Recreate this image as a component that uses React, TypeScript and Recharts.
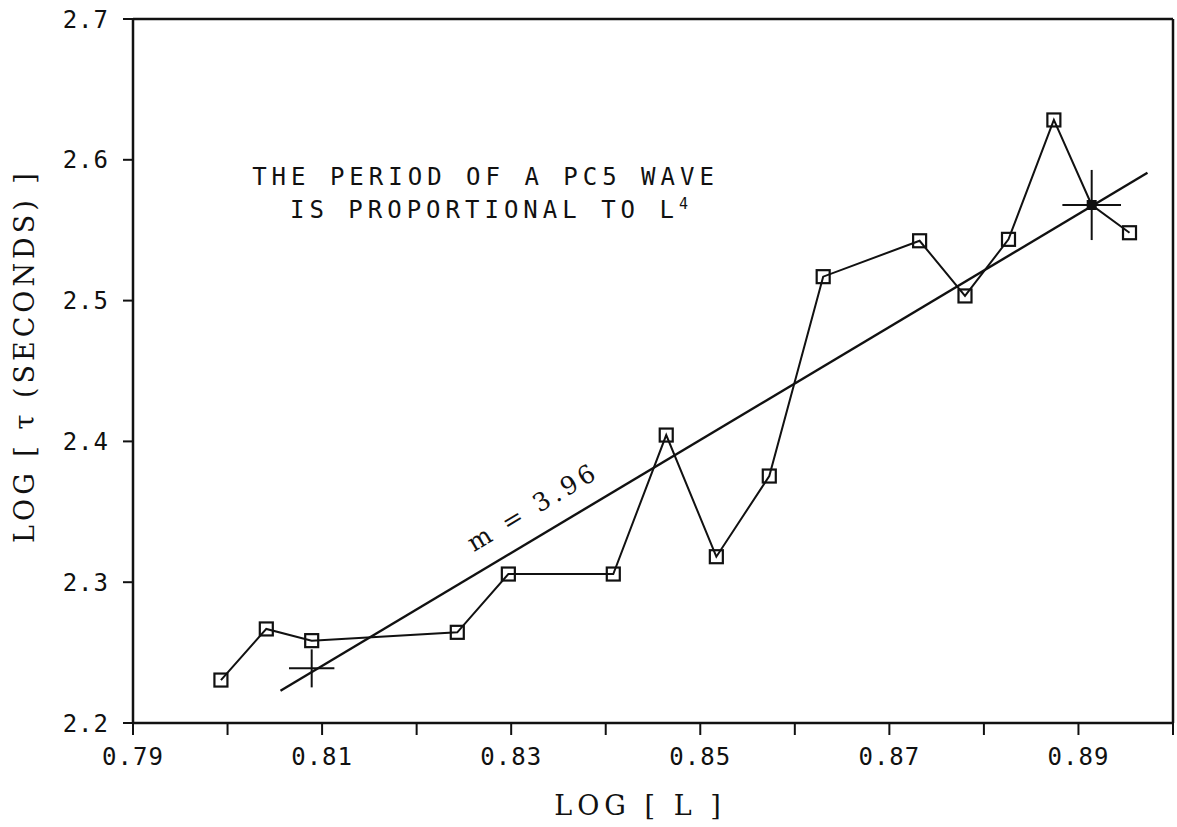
import { ComposedChart, Scatter, XAxis, YAxis, ReferenceLine, ReferenceDot, ErrorBar } from 'recharts'

// observed pc5 periods
const logL = [0.7993, 0.8041, 0.8089, 0.8243, 0.8297, 0.8408, 0.8464, 0.8517, 0.8573, 0.863, 0.8732, 0.878, 0.8826, 0.8874, 0.8914, 0.8954]
const logTau = [2.2305, 2.2668, 2.2585, 2.2644, 2.3058, 2.3058, 2.4045, 2.3181, 2.3754, 2.517, 2.5425, 2.5033, 2.5435, 2.6283, 2.5679, 2.5482]
const filledIndex = 14

// least squares fit, m = 3.96
const fitL = [0.8056, 0.8973]
const fitTau = [2.2229, 2.5908]

// crosses on the fit line
const crossL = [0.8089, 0.8914]
const crossTau = [2.2388, 2.5679]
const crossErrL = [0.0024, 0.0031]
const crossErrTau = [0.0135, 0.0249]

const xTicks = [0.79, 0.8, 0.81, 0.82, 0.83, 0.84, 0.85, 0.86, 0.87, 0.88, 0.89, 0.9]
const yTicks = [2.2, 2.3, 2.4, 2.5, 2.6, 2.7]

const obs = logL.map((x, i) => ({ x, y: logTau[i], filled: i === filledIndex }))
const fit = fitL.map((x, i) => ({ x, y: fitTau[i] }))
const crosses = crossL.map((x, i) => ({ x, y: crossTau[i], ex: crossErrL[i], ey: crossErrTau[i] }))

const INK = '#111'
const plotFont = '"DejaVu Sans Mono", monospace'
const typeFont = '"DejaVu Serif", serif'

const tickStyle = { fill: INK, fontSize: 24, fontFamily: plotFont, letterSpacing: 1 }

function SquareDot(props: any) {
  const { cx, cy, payload } = props
  if (cx == null || cy == null) return <g />
  if (payload.filled) {
    return <rect x={cx - 5} y={cy - 5} width={10} height={10} fill={INK} />
  }
  return <rect x={cx - 6.5} y={cy - 6.5} width={13} height={13} fill="none" stroke={INK} strokeWidth={2.2} />
}

const NoDot = () => <g />

export default function App() {
  return (
    <div style={{ position: 'absolute', left: 0, top: 0, background: '#fff' }}>
      <ComposedChart width={1177} height={827} margin={{ top: 19, right: 4, bottom: 0, left: 0 }}>
        <XAxis
          type="number"
          dataKey="x"
          domain={[0.79, 0.9]}
          ticks={xTicks}
          allowDataOverflow
          height={104}
          tickSize={12}
          tickMargin={13}
          interval={0}
          tickFormatter={(v: number) => (Math.round(v * 100) % 2 === 1 ? v.toFixed(2) : '')}
          tick={tickStyle}
          axisLine={{ stroke: INK, strokeWidth: 2.5 }}
          tickLine={{ stroke: INK, strokeWidth: 2 }}
          label={{
            content: (p: any) => {
              const vb = p.viewBox
              return (
                <text x={vb.x + vb.width / 2 - 13} y={vb.y + 92} textAnchor="middle" fill={INK} fontSize={27} fontFamily={typeFont} letterSpacing={5}>
                  LOG [ L ]
                </text>
              )
            },
          }}
        />
        <YAxis
          type="number"
          dataKey="y"
          domain={[2.2, 2.7]}
          ticks={yTicks}
          allowDataOverflow
          width={133}
          tickSize={10}
          tickMargin={14}
          interval={0}
          tickFormatter={(v: number) => v.toFixed(1)}
          tick={tickStyle}
          axisLine={{ stroke: INK, strokeWidth: 2.5 }}
          tickLine={{ stroke: INK, strokeWidth: 2 }}
          label={{
            content: (p: any) => {
              const vb = p.viewBox
              const cx = vb.x + 24
              const cy = vb.y + vb.height / 2 - 15
              return (
                <text x={cx} y={cy} transform={`rotate(-90 ${cx} ${cy})`} textAnchor="middle" dominantBaseline="central" fill={INK} fontSize={27} fontFamily={typeFont} letterSpacing={4}>
                  LOG [ τ (SECONDS) ]
                </text>
              )
            },
          }}
        />
        <ReferenceLine y={2.7} stroke={INK} strokeWidth={2.5} />
        <ReferenceLine x={0.9} stroke={INK} strokeWidth={2.5} />

        <Scatter data={fit} line={{ stroke: INK, strokeWidth: 2.4 }} lineType="joint" shape={NoDot} isAnimationActive={false} />
        <Scatter data={crosses} shape={NoDot} isAnimationActive={false}>
          <ErrorBar dataKey="ex" direction="x" width={0} stroke={INK} strokeWidth={2} />
          <ErrorBar dataKey="ey" direction="y" width={0} stroke={INK} strokeWidth={2} />
        </Scatter>
        <Scatter data={obs} line={{ stroke: INK, strokeWidth: 2 }} lineType="joint" shape={SquareDot} isAnimationActive={false} />

        <ReferenceDot
          x={0.8026}
          y={2.5821}
          r={0}
          ifOverflow="visible"
          shape={(p: any) => (
            <text x={p.cx} y={p.cy} fill={INK} fontSize={24} fontFamily={plotFont} letterSpacing={5}>
              THE PERIOD OF A PC5 WAVE
            </text>
          )}
        />
        <ReferenceDot
          x={0.8066}
          y={2.5587}
          r={0}
          ifOverflow="visible"
          shape={(p: any) => (
            <text x={p.cx} y={p.cy} fill={INK} fontSize={24} fontFamily={plotFont} letterSpacing={5}>
              IS PROPORTIONAL TO L
              <tspan dy={-9} fontSize={15} letterSpacing={0}>4</tspan>
            </text>
          )}
        />
        <ReferenceDot
          x={0.8323}
          y={2.3534}
          r={0}
          ifOverflow="visible"
          shape={(p: any) => (
            <text
              x={p.cx}
              y={p.cy}
              transform={`rotate(-30.9 ${p.cx} ${p.cy})`}
              textAnchor="middle"
              dominantBaseline="central"
              fill={INK}
              fontSize={25}
              fontFamily={typeFont}
              letterSpacing={4}
            >
              m = 3.96
            </text>
          )}
        />
      </ComposedChart>
    </div>
  )
}
